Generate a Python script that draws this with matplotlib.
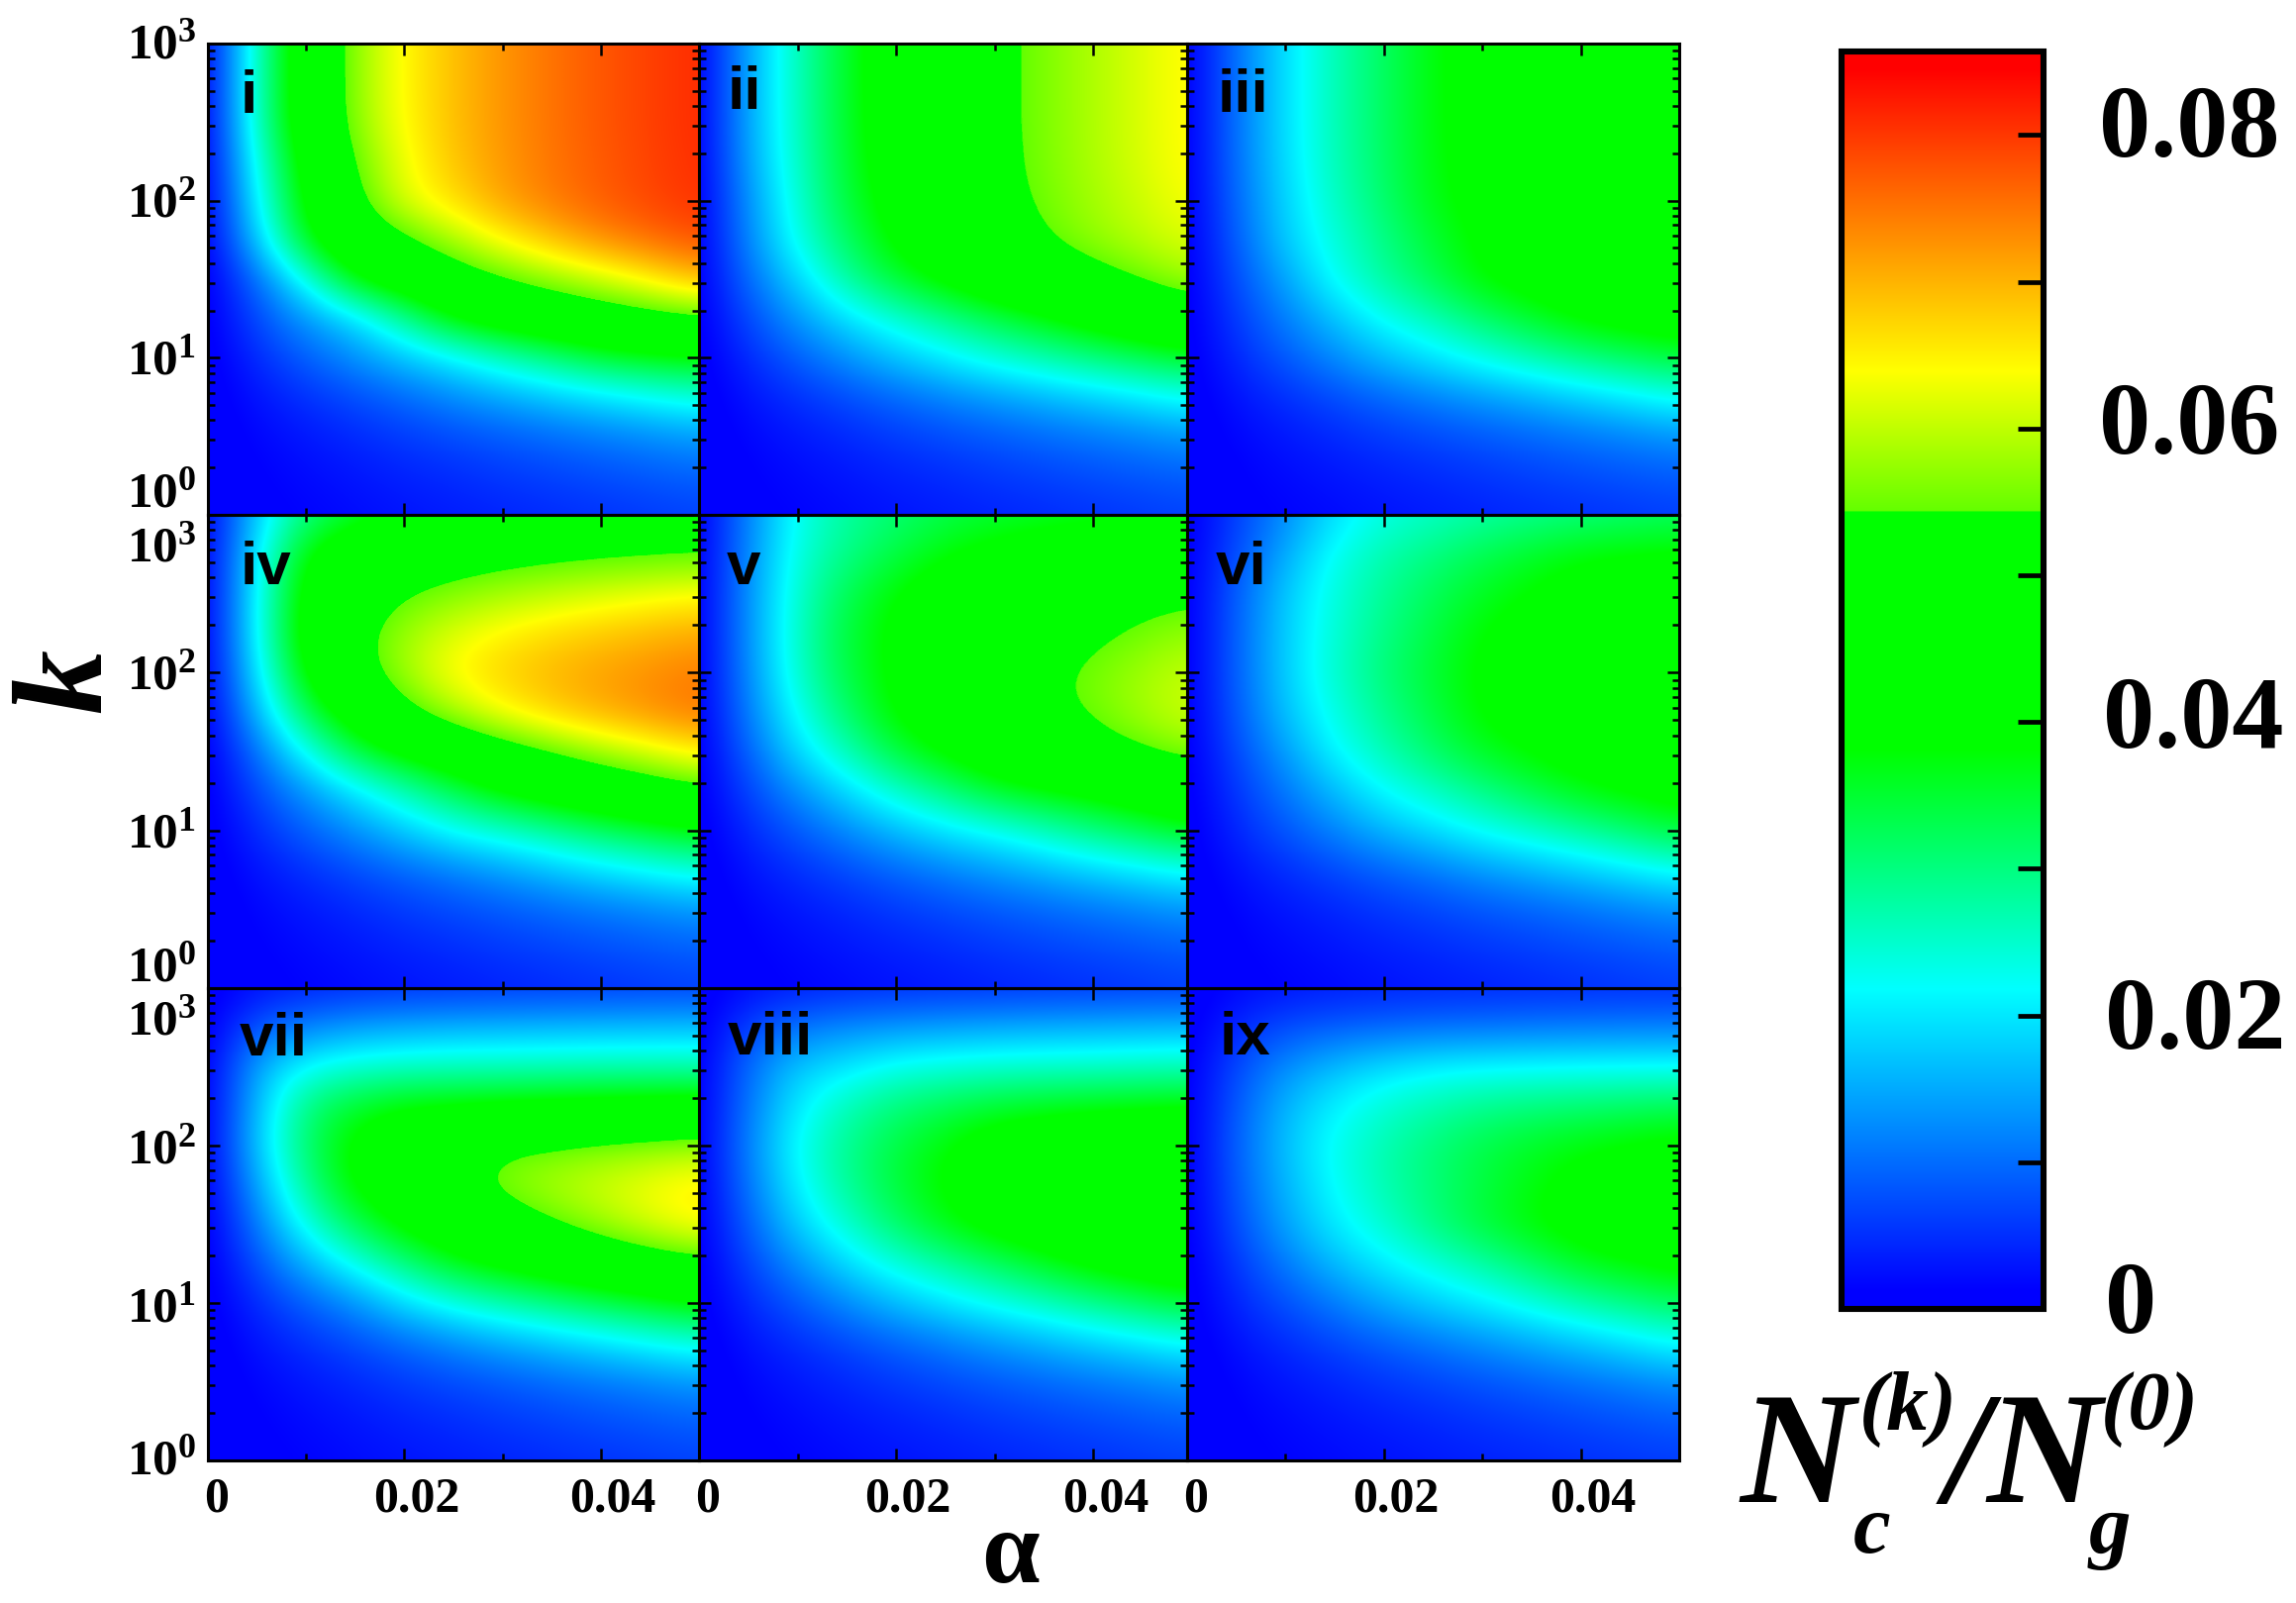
import matplotlib
matplotlib.use('Agg')
import matplotlib.pyplot as plt
import numpy as np
from matplotlib.cm import ScalarMappable
from matplotlib.colors import LinearSegmentedColormap, Normalize
from matplotlib.transforms import ScaledTranslation

W, H = 2319, 1619

# grid the values were read on, evenly spaced in alpha and in log10(k)
alpha = [0, .005, .01, .015, .02, .025, .03, .035, .04, .045, .05]
k_exp = [3, 2.75, 2.5, 2.25, 2, 1.75, 1.5, 1.25, 1, .75, .5, .25, 0]

# N_c/N_g, in units of 1e-4, top row is k = 10^3
panel_i = [
    [0, 265, 445, 575, 645, 690, 725, 752, 775, 793, 810],
    [0, 265, 445, 575, 645, 690, 725, 752, 775, 793, 810],
    [0, 262, 442, 572, 643, 690, 725, 752, 775, 793, 810],
    [0, 235, 415, 550, 632, 685, 722, 750, 772, 791, 808],
    [0, 210, 400, 525, 625, 665, 715, 745, 770, 788, 805],
    [0, 175, 370, 470, 530, 590, 645, 690, 730, 757, 780],
    [0, 100, 230, 385, 440, 495, 540, 575, 610, 650, 695],
    [0, 72, 135, 190, 285, 385, 430, 462, 490, 513, 535],
    [0, 47, 90, 128, 170, 208, 258, 300, 345, 365, 378],
    [0, 28, 52, 75, 98, 125, 148, 172, 195, 218, 240],
    [0, 17, 31, 45, 60, 73, 86, 99, 112, 125, 138],
    [0, 11, 21, 30, 40, 48, 58, 66, 75, 84, 92],
    [0, 8, 14, 21, 28, 34, 40, 46, 52, 58, 65],
]
panel_ii = [
    [0, 150, 262, 358, 428, 478, 525, 560, 590, 618, 645],
    [0, 150, 262, 358, 428, 478, 525, 560, 590, 618, 645],
    [0, 150, 260, 357, 427, 478, 525, 560, 590, 618, 645],
    [0, 145, 255, 352, 423, 475, 523, 558, 589, 617, 644],
    [0, 130, 245, 345, 410, 465, 518, 553, 583, 610, 638],
    [0, 122, 232, 320, 395, 445, 490, 540, 572, 598, 620],
    [0, 100, 185, 280, 350, 400, 445, 480, 515, 550, 582],
    [0, 72, 135, 195, 245, 290, 335, 375, 415, 455, 490],
    [0, 47, 90, 130, 170, 205, 240, 270, 300, 328, 355],
    [0, 28, 52, 75, 98, 120, 140, 160, 180, 202, 225],
    [0, 17, 31, 45, 60, 73, 85, 98, 110, 122, 135],
    [0, 11, 21, 30, 40, 48, 58, 66, 75, 83, 90],
    [0, 8, 14, 21, 28, 34, 40, 46, 52, 58, 65],
]
panel_iii = [
    [0, 105, 195, 265, 320, 375, 405, 430, 450, 466, 480],
    [0, 105, 195, 265, 320, 375, 405, 430, 450, 466, 480],
    [0, 105, 195, 265, 320, 375, 405, 430, 450, 466, 480],
    [0, 103, 193, 263, 318, 373, 404, 429, 449, 465, 479],
    [0, 97, 185, 255, 312, 370, 398, 422, 443, 459, 473],
    [0, 88, 178, 240, 295, 350, 392, 415, 435, 451, 465],
    [0, 75, 145, 225, 280, 330, 385, 408, 425, 439, 450],
    [0, 60, 115, 170, 225, 265, 313, 355, 392, 410, 425],
    [0, 45, 85, 125, 165, 198, 232, 265, 295, 322, 345],
    [0, 28, 51, 74, 97, 118, 138, 158, 180, 203, 228],
    [0, 17, 31, 45, 59, 71, 83, 95, 107, 119, 132],
    [0, 11, 21, 30, 39, 47, 56, 65, 73, 81, 88],
    [0, 8, 14, 20, 27, 33, 39, 45, 50, 56, 62],
]
panel_iv = [
    [0, 180, 305, 350, 395, 425, 445, 456, 465, 473, 480],
    [0, 208, 388, 450, 480, 500, 515, 526, 533, 538, 542],
    [0, 218, 415, 490, 540, 565, 585, 600, 615, 628, 638],
    [0, 218, 425, 520, 580, 620, 648, 668, 682, 695, 708],
    [0, 200, 395, 510, 585, 645, 675, 697, 715, 730, 745],
    [0, 160, 330, 430, 525, 590, 642, 678, 705, 728, 750],
    [0, 105, 225, 340, 400, 450, 500, 545, 587, 620, 655],
    [0, 72, 135, 200, 265, 330, 390, 425, 460, 493, 525],
    [0, 47, 90, 130, 175, 222, 250, 285, 320, 348, 375],
    [0, 28, 52, 75, 97, 118, 142, 168, 195, 218, 240],
    [0, 17, 31, 45, 60, 73, 85, 98, 110, 122, 135],
    [0, 11, 21, 30, 40, 48, 58, 66, 75, 83, 90],
    [0, 8, 14, 21, 28, 34, 40, 46, 52, 58, 65],
]
panel_v = [
    [0, 118, 230, 280, 310, 335, 350, 358, 365, 372, 378],
    [0, 125, 240, 295, 340, 378, 400, 417, 430, 438, 445],
    [0, 130, 250, 330, 382, 420, 450, 477, 500, 517, 530],
    [0, 130, 255, 345, 395, 440, 480, 508, 530, 555, 575],
    [0, 125, 250, 340, 395, 440, 490, 530, 555, 582, 605],
    [0, 115, 225, 315, 390, 430, 475, 525, 552, 585, 612],
    [0, 92, 190, 265, 345, 395, 435, 475, 510, 542, 568],
    [0, 68, 130, 190, 250, 300, 355, 380, 400, 432, 465],
    [0, 45, 85, 125, 165, 200, 225, 262, 300, 332, 365],
    [0, 28, 52, 74, 97, 118, 140, 161, 183, 205, 226],
    [0, 17, 31, 45, 59, 72, 84, 96, 108, 120, 133],
    [0, 11, 21, 30, 39, 47, 57, 65, 73, 81, 89],
    [0, 8, 14, 21, 27, 33, 39, 45, 51, 57, 63],
]
panel_vi = [
    [0, 62, 125, 195, 235, 255, 275, 289, 300, 311, 320],
    [0, 75, 150, 228, 270, 300, 330, 356, 378, 385, 390],
    [0, 88, 175, 240, 285, 325, 360, 385, 405, 418, 430],
    [0, 90, 180, 245, 295, 340, 383, 405, 425, 438, 450],
    [0, 90, 180, 250, 305, 350, 390, 412, 430, 446, 460],
    [0, 85, 170, 235, 290, 340, 387, 410, 430, 446, 460],
    [0, 72, 140, 215, 265, 315, 360, 387, 410, 426, 440],
    [0, 57, 110, 165, 218, 255, 295, 335, 370, 392, 410],
    [0, 43, 82, 120, 160, 192, 225, 252, 280, 312, 345],
    [0, 27, 50, 72, 93, 113, 137, 157, 178, 201, 225],
    [0, 16, 30, 43, 57, 69, 82, 93, 105, 118, 130],
    [0, 11, 20, 29, 38, 46, 55, 63, 71, 79, 87],
    [0, 8, 14, 20, 27, 33, 38, 44, 50, 56, 62],
]
panel_vii = [
    [0, 25, 38, 45, 50, 53, 56, 58, 60, 62, 63],
    [0, 85, 120, 140, 150, 155, 158, 161, 163, 165, 166],
    [0, 150, 222, 245, 255, 260, 262, 265, 268, 269, 270],
    [0, 165, 305, 355, 383, 388, 395, 402, 410, 415, 420],
    [0, 175, 315, 400, 450, 490, 535, 545, 558, 568, 578],
    [0, 145, 290, 395, 440, 520, 565, 590, 612, 635, 655],
    [0, 110, 235, 330, 400, 445, 495, 540, 580, 618, 648],
    [0, 78, 155, 230, 300, 365, 400, 432, 465, 495, 520],
    [0, 47, 90, 130, 190, 235, 270, 300, 330, 358, 385],
    [0, 28, 52, 75, 100, 125, 150, 172, 195, 218, 240],
    [0, 17, 31, 45, 60, 73, 85, 98, 110, 122, 135],
    [0, 11, 21, 30, 40, 48, 58, 66, 75, 83, 90],
    [0, 8, 14, 21, 28, 34, 40, 46, 52, 58, 65],
]
panel_viii = [
    [0, 22, 35, 42, 47, 50, 52, 55, 57, 59, 60],
    [0, 68, 108, 125, 135, 142, 148, 152, 155, 158, 160],
    [0, 100, 175, 200, 230, 240, 248, 252, 255, 260, 265],
    [0, 110, 205, 265, 305, 330, 350, 362, 370, 376, 381],
    [0, 118, 225, 290, 340, 378, 420, 442, 460, 477, 490],
    [0, 108, 212, 285, 345, 390, 425, 450, 470, 488, 505],
    [0, 90, 180, 250, 315, 370, 410, 435, 455, 473, 490],
    [0, 68, 130, 190, 240, 280, 320, 362, 400, 425, 445],
    [0, 45, 85, 125, 165, 198, 228, 258, 290, 322, 350],
    [0, 27, 50, 72, 94, 115, 138, 158, 180, 200, 222],
    [0, 17, 31, 45, 59, 72, 84, 96, 108, 120, 133],
    [0, 11, 21, 30, 39, 47, 57, 65, 73, 81, 89],
    [0, 8, 14, 21, 27, 33, 39, 45, 51, 57, 63],
]
panel_ix = [
    [0, 18, 28, 35, 40, 43, 45, 47, 48, 49, 50],
    [0, 45, 75, 88, 95, 102, 105, 109, 112, 114, 115],
    [0, 72, 128, 165, 192, 208, 215, 218, 220, 221, 222],
    [0, 85, 160, 210, 245, 270, 290, 302, 310, 320, 330],
    [0, 90, 170, 228, 268, 305, 335, 358, 375, 388, 398],
    [0, 85, 160, 222, 268, 305, 340, 372, 400, 417, 430],
    [0, 75, 145, 205, 248, 300, 345, 380, 410, 427, 440],
    [0, 58, 112, 165, 205, 240, 275, 318, 360, 382, 400],
    [0, 42, 78, 113, 150, 180, 205, 238, 270, 298, 325],
    [0, 26, 48, 70, 90, 110, 130, 151, 172, 196, 222],
    [0, 16, 30, 43, 56, 68, 80, 92, 104, 117, 130],
    [0, 11, 20, 29, 37, 45, 54, 62, 70, 78, 86],
    [0, 8, 14, 20, 26, 32, 38, 43, 49, 55, 60],
]
panels = [panel_i, panel_ii, panel_iii, panel_iv, panel_v, panel_vi, panel_vii, panel_viii, panel_ix]
panel_names = ['i', 'ii', 'iii', 'iv', 'v', 'vi', 'vii', 'viii', 'ix']

cbar_ticks = [0, .01, .02, .03, .04, .05, .06, .07, .08]
cbar_labels = ['0', '', '0.02', '', '0.04', '', '0.06', '', '0.08']
vmax = .0857

plt.rcParams['font.family'] = 'Liberation Serif'
plt.rcParams['font.weight'] = 'bold'
plt.rcParams['mathtext.fontset'] = 'custom'
plt.rcParams['mathtext.rm'] = 'Liberation Serif:bold'
plt.rcParams['mathtext.bf'] = 'Liberation Serif:bold'

stops = [(0, (0, 0, 1)), (.0013, (0, 0, 1)), (.0218, (0, 1, 1)), (.0381, (0, 1, 0)),
         (.0543, (0, 1, 0)), (.0544, (.39, 1, 0)), (.0639, (1, 1, 0)), (.0845, (1, 0, 0)), (vmax, (1, 0, 0))]
cmap = LinearSegmentedColormap.from_list('nc', [(v / vmax, c) for v, c in stops], N=2048)
norm = Normalize(0, vmax)

fig = plt.figure(figsize=(W / 100, H / 100), dpi=100)


def add_px_axes(x0, y0, x1, y1):
    return fig.add_axes([x0 / W, 1 - y1 / H, (x1 - x0) / W, (y1 - y0) / H])


def shift_label(label, dx, dy):
    # dx, dy in pixels, dy positive goes down
    label.set_transform(label.get_transform() + ScaledTranslation(dx / 100, -dy / 100, fig.dpi_scale_trans))


def fig_text(x, y, s, size, **kw):
    fig.text(x / W, 1 - y / H, s, fontsize=size * .72, **kw)


col_x = [(210, 706), (706, 1199), (1199, 1696)]
col_xmax = [.05, .0495, .05]
row_y = [(44, 520), (520, 998), (998, 1475)]
name_xy = [(243, 114), (735, 110), (1230, 113), (243, 590), (734, 590), (1228, 590), (242, 1066), (735, 1065), (1232, 1065)]
# vertical shift of the y tick labels, rows top to bottom, for 10^0 .. 10^3
y_shift = [(-26, -1, -2, -3), (-25, -1, -1, 29), (-4, 1, 0, 29)]

d_alpha = alpha[1] - alpha[0]
d_exp = k_exp[0] - k_exp[1]
extent = (alpha[0] - d_alpha / 2, alpha[-1] + d_alpha / 2, k_exp[-1] - d_exp / 2, k_exp[0] + d_exp / 2)
# the y axis runs in log10(k), so the image keeps even rows
minor_k = np.log10([m * 10.0 ** e for e in range(3) for m in range(2, 10)])

for i, values in enumerate(panels):
    r, c = divmod(i, 3)
    ax = add_px_axes(col_x[c][0], row_y[r][0], col_x[c][1], row_y[r][1])
    z = np.array(values, dtype=float) / 1e4
    ax.imshow(z, extent=extent, origin='upper', aspect='auto', cmap=cmap, norm=norm,
              interpolation='bicubic', interpolation_stage='data')
    ax.set_xlim(0, col_xmax[c])
    ax.set_ylim(0, 3)
    ax.set_xticks([0, .02, .04])
    ax.set_xticks([.01, .03, .05][:3 if col_xmax[c] >= .05 else 2], minor=True)
    ax.set_yticks([0, 1, 2, 3])
    ax.set_yticks(minor_k, minor=True)
    ax.tick_params(which='major', direction='in', top=True, right=True, length=8.5, width=1.8)
    ax.tick_params(which='minor', direction='in', top=True, right=True, length=5, width=1.8)
    ax.tick_params(axis='x', which='major', pad=12, labelsize=36, labelbottom=r == 2)
    ax.tick_params(axis='y', which='major', pad=8.5, labelsize=37, labelleft=c == 0)
    ax.tick_params(axis='y', which='minor', labelleft=False)
    for side in ax.spines.values():
        side.set_linewidth(2.2)
    ax.set_xticklabels(['0', '0.02', '0.04'])
    ax.set_yticklabels([r'$\mathbf{10^{%d}}$' % e for e in range(4)])
    for lab, dx in zip(ax.get_xticklabels(), [9, 12, 12]):
        shift_label(lab, dx, 0)
    for lab, dy in zip(ax.get_yticklabels(), y_shift[r]):
        shift_label(lab, 0, dy)
    fig_text(name_xy[i][0], name_xy[i][1], panel_names[i], 62, family='Liberation Sans', weight='bold', va='baseline', zorder=5)

cax = add_px_axes(1860, 52, 2064, 1322)
cb = fig.colorbar(ScalarMappable(norm, cmap), cax=cax)
cb.set_ticks(cbar_ticks, labels=cbar_labels)
cb.minorticks_off()
cb.outline.set_linewidth(4.4)
cax.tick_params(axis='y', direction='in', left=False, right=True, length=19, width=3.4, pad=45, labelsize=75)
for lab, dy, dx in zip(cax.get_yticklabels(), [-12, 0, -3, 0, -10, 0, -11, 0, -14], [0, 0, 0, 0, -2, 0, -7, 0, -7]):
    shift_label(lab, dx, dy)

fig_text(70, 688, 'k', 130, style='italic', weight='bold', rotation=90, ha='center', va='center')
fig_text(1020, 1572, 'α', 105, weight='bold', ha='center', va='center')

bi = dict(style='italic', weight='bold', va='baseline')
fig_text(1757, 1517, 'N', 160, **bi)
fig_text(1878, 1444, '(k)', 85, **bi)
fig_text(1872, 1568, 'c', 85, **bi)
fig_text(1965, 1517, '/', 160, **bi)
fig_text(2006, 1517, 'N', 160, **bi)
fig_text(2122, 1444, '(0)', 85, **bi)
fig_text(2110, 1568, 'g', 85, **bi)

fig.savefig('out.png', dpi=100)
